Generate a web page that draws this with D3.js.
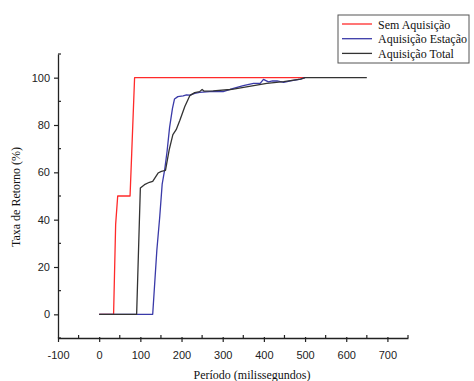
<!DOCTYPE html>
<html>
<head>
<meta charset="utf-8">
<script src="https://d3js.org/d3.v7.min.js"></script>
<style>
  body { margin: 0; background: #fff; }
  svg { display: block; }
  .tick text { font-family: "Liberation Sans", Arial, sans-serif; font-size: 11px; fill: #222; }
  .title { font-family: "Liberation Serif", "Times New Roman", serif; font-size: 12px; fill: #111; }
  .leg { font-family: "Liberation Serif", "Times New Roman", serif; font-size: 12px; fill: #111; }
</style>
</head>
<body>
<div id="chart"></div>
<script>
// series: [periodo, taxa]
const semAquisicao = [[0,0],[35,0],[40,38],[45,50],[75,50],[79,68],[86,100],[500,100]];
const aquisicaoEstacao = [[0,0],[130,0],[140,27],[147,41],[153,55],[159,61],[165,69],[171,79],[178,87],
  [183,91],[191,92],[204,92.3],[212,92.7],[220,92.6],[232,93.4],[244,93.8],[260,94],[277,94.2],
  [301,94.1],[326,95.5],[350,96.6],[375,97.6],[391,97.6],[399,99.3],[411,98.2],[421,98.6],[432,98.6],
  [448,98],[465,98.6],[489,99.4],[500,100]];
const aquisicaoTotal = [[0,0],[91,0],[100,53.4],[110,54.8],[122,55.8],[130,56.2],[143,59.7],[151,60.4],
  [161,60.8],[170,69.5],[179,75.9],[187,78],[196,82],[208,87.8],[220,92.4],[232,93.7],[244,94.1],
  [250,95],[255,94.3],[277,94.4],[318,95],[326,95.2],[407,97.6],[448,98.3],[489,99.4],[500,100],[650,100]];

const seriesNames = ["Sem Aquisição", "Aquisição Estação", "Aquisição Total"];
const seriesColors = ["#ff2a2a", "#3a3aa8", "#333333"];
const xTicks = [-100, 0, 100, 200, 300, 400, 500, 600, 700];
const yTicks = [0, 20, 40, 60, 80, 100];

const W = 474, H = 381;
const svg = d3.select("#chart").append("svg").attr("width", W).attr("height", H);

const x = d3.scaleLinear().domain([-100, 750]).range([58, 408]);
const y = d3.scaleLinear().domain([-10, 110]).range([338, 54]);

const line = d3.line().x(d => x(d[0])).y(d => y(d[1]));

// lines
[semAquisicao, aquisicaoEstacao, aquisicaoTotal].forEach((s, i) => {
  svg.append("path").datum(s)
    .attr("fill", "none")
    .attr("stroke", seriesColors[i])
    .attr("stroke-width", 1.3)
    .attr("stroke-linejoin", "round")
    .attr("d", line);
});

// x axis
const xa = svg.append("g").attr("transform", `translate(0,${y(-10)})`);
xa.call(d3.axisBottom(x).tickValues(xTicks).tickFormat(d => String(d))
  .tickSize(4).tickSizeOuter(0).tickPadding(9));
xa.call(g => g.select(".domain").attr("stroke", "#222").attr("stroke-width", 1.3));
xa.selectAll(".tick line").attr("stroke", "#222").attr("stroke-width", 1.2).attr("y1", -1);
xa.selectAll(".minor").data(d3.range(-50, 751, 100)).enter().append("line")
  .attr("x1", d => x(d)).attr("x2", d => x(d)).attr("y1", 0).attr("y2", -3)
  .attr("stroke", "#222").attr("stroke-width", 1.2);

// y axis
const ya = svg.append("g").attr("transform", `translate(${x(-100)},0)`);
ya.call(d3.axisLeft(y).tickValues(yTicks).tickFormat(d => String(d))
  .tickSize(4).tickSizeOuter(0).tickPadding(4));
ya.call(g => g.select(".domain").attr("stroke", "#222").attr("stroke-width", 1.3));
ya.selectAll(".tick line").attr("stroke", "#222").attr("stroke-width", 1.2);
ya.selectAll(".minor").data(d3.range(-10, 111, 20)).enter().append("line")
  .attr("x1", 0).attr("x2", 3).attr("y1", d => y(d)).attr("y2", d => y(d))
  .attr("stroke", "#222").attr("stroke-width", 1.2);

// titles
svg.append("text").attr("class", "title").attr("x", 252).attr("y", 379)
  .attr("text-anchor", "middle").text("Período (milissegundos)");
svg.append("text").attr("class", "title")
  .attr("transform", "translate(20,197) rotate(-90)")
  .attr("text-anchor", "middle").text("Taxa de Retorno (%)");

// legend
const lg = svg.append("g");
lg.append("rect").attr("x", 338).attr("y", 15).attr("width", 131).attr("height", 48)
  .attr("fill", "#fff").attr("stroke", "#555").attr("stroke-width", 1);
seriesNames.forEach((n, i) => {
  const yy = 24 + i * 14.7;
  lg.append("line").attr("x1", 342).attr("x2", 372).attr("y1", yy).attr("y2", yy)
    .attr("stroke", seriesColors[i]).attr("stroke-width", 1.3);
  lg.append("text").attr("class", "leg").attr("x", 378).attr("y", yy + 4.5).text(n);
});
</script>
</body>
</html>
